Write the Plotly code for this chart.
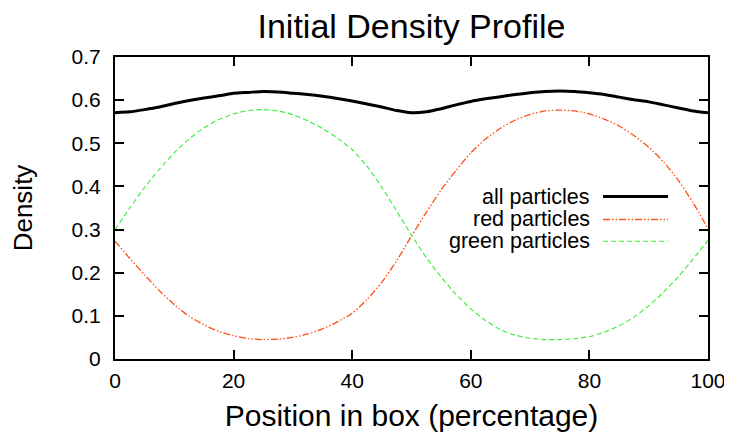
import plotly.graph_objects as go

position = [0, 2.5, 5, 7.5, 10, 12.5, 15, 17.5, 20, 22.5, 25, 27.5, 30, 32.5, 35, 37.5,
            40, 42.5, 45, 47.5, 50, 52.5, 55, 57.5, 60, 62.5, 65, 67.5, 70, 72.5, 75,
            77.5, 80, 82.5, 85, 87.5, 90, 92.5, 95, 97.5, 100]

all_particles = [0.571, 0.573, 0.578, 0.584, 0.592, 0.599, 0.605, 0.610, 0.616, 0.618, 0.620,
                 0.619, 0.616, 0.613, 0.609, 0.604, 0.598, 0.591, 0.584, 0.576, 0.571, 0.573,
                 0.580, 0.589, 0.597, 0.603, 0.608, 0.613, 0.617, 0.620, 0.621, 0.620, 0.617,
                 0.613, 0.607, 0.601, 0.596, 0.589, 0.582, 0.575, 0.571]

red_particles = [0.273, 0.233, 0.195, 0.158, 0.126, 0.099, 0.079, 0.064, 0.054, 0.047, 0.045,
                 0.046, 0.050, 0.058, 0.070, 0.086, 0.106, 0.138, 0.178, 0.228, 0.285, 0.340,
                 0.392, 0.437, 0.478, 0.510, 0.535, 0.554, 0.567, 0.575, 0.577, 0.575, 0.568,
                 0.556, 0.540, 0.518, 0.491, 0.457, 0.414, 0.362, 0.302]

green_particles = [0.300, 0.350, 0.398, 0.440, 0.478, 0.510, 0.536, 0.555, 0.568, 0.576, 0.578,
                   0.575, 0.566, 0.552, 0.534, 0.512, 0.485, 0.447, 0.398, 0.343, 0.287, 0.235,
                   0.190, 0.150, 0.116, 0.089, 0.068, 0.055, 0.048, 0.045, 0.045, 0.047, 0.052,
                   0.062, 0.077, 0.097, 0.123, 0.155, 0.191, 0.232, 0.275]

x_ticks = [0, 20, 40, 60, 80, 100]
y_ticks = [0, 0.1, 0.2, 0.3, 0.4, 0.5, 0.6, 0.7]
y_tick_labels = ["0", "0.1", "0.2", "0.3", "0.4", "0.5", "0.6", "0.7"]

legend_names = ["all particles", "red particles", "green particles"]

BLACK = "#000000"
RED = "#ff4f1a"
GREEN = "#33ee33"
RED_DASH = "7px,2px,1.5px,2px,1.5px,2px"
GREEN_DASH = "5px,3px"
FONT = "Liberation Sans, Arial, Helvetica, sans-serif"

fig = go.Figure()
fig.add_trace(go.Scatter(x=position, y=all_particles, mode="lines", name=legend_names[0],
                         line=dict(color=BLACK, width=3, shape="spline", smoothing=0.6),
                         showlegend=False))
fig.add_trace(go.Scatter(x=position, y=red_particles, mode="lines", name=legend_names[1],
                         line=dict(color=RED, width=1.3, dash=RED_DASH, shape="spline",
                                   smoothing=0.6), showlegend=False))
fig.add_trace(go.Scatter(x=position, y=green_particles, mode="lines", name=legend_names[2],
                         line=dict(color=GREEN, width=1.1, dash=GREEN_DASH, shape="spline",
                                   smoothing=0.6), showlegend=False))

# Custom legend (text right-aligned, sample line to the right), gnuplot style
legend_styles = [dict(color=BLACK, width=3), dict(color=RED, width=1.3, dash=RED_DASH),
                 dict(color=GREEN, width=1.1, dash=GREEN_DASH)]
legend_y = [0.538, 0.462, 0.390]
for name, style, ly in zip(legend_names, legend_styles, legend_y):
    fig.add_annotation(x=0.805, y=ly, xref="paper", yref="paper", text=name,
                       showarrow=False, xanchor="right", yanchor="middle",
                       font=dict(size=21.5, color=BLACK, family=FONT))
    fig.add_shape(type="line", xref="paper", yref="paper", x0=0.823, x1=0.9325,
                  y0=ly, y1=ly, line=style)

axis_common = dict(showline=True, linecolor=BLACK, linewidth=2, mirror="ticks",
                   ticks="inside", ticklen=9, tickwidth=2, tickcolor=BLACK,
                   showgrid=False, zeroline=False, automargin=False,
                   tickfont=dict(size=21, color=BLACK, family=FONT))

# The page body adds an 8px offset, so the figure is 8px smaller than the window.
fig.update_layout(
    width=724, height=424,
    margin=dict(l=107, r=24, t=49, b=73, autoexpand=False),
    paper_bgcolor="white", plot_bgcolor="white",
    title=dict(text="Initial Density Profile", x=0.5, xref="paper", xanchor="center",
               y=1 - 18.5 / 424, yref="container", yanchor="middle",
               font=dict(size=34, color=BLACK, family=FONT)),
    xaxis=dict(range=[0, 100], tickvals=x_ticks, ticktext=[str(v) for v in x_ticks],
               ticklabelstandoff=2,
               title=dict(text="Position in box (percentage)", standoff=20,
                          font=dict(size=30, color=BLACK, family=FONT)),
               **axis_common),
    yaxis=dict(range=[0, 0.7], tickvals=y_ticks, ticktext=y_tick_labels,
               ticklabelstandoff=8,
               title=dict(text="Density", standoff=42,
                          font=dict(size=26, color=BLACK, family=FONT)),
               **axis_common),
)

fig.write_html("out.html")
